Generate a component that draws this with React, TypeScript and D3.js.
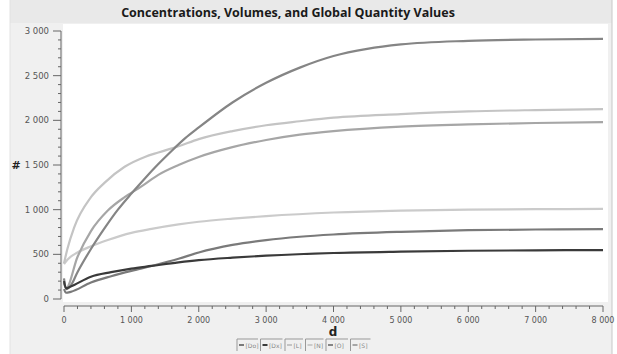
import React, { useEffect, useRef } from "react";
import * as d3 from "d3";

// time points (d) and series values (#)
const tDo = [0, 30, 100, 400, 700, 1000, 1300, 1700, 2000, 2500, 3000, 3500, 4000, 5000, 6000, 7000, 8000];
const vDo = [110, 70, 80, 185, 255, 315, 370, 450, 520, 605, 660, 697, 722, 752, 770, 778, 783];

const tDx = [0, 30, 100, 400, 700, 1000, 1300, 1700, 2000, 2500, 3000, 4000, 5000, 6000, 7000, 8000];
const vDx = [200, 120, 140, 250, 300, 340, 370, 410, 435, 463, 485, 515, 530, 540, 545, 548];

const tL = [0, 50, 150, 400, 600, 900, 1200, 1400, 1700, 2000, 2500, 3000, 3500, 4000, 5000, 6000, 7000, 8000];
const vL = [400, 560, 800, 1140, 1300, 1480, 1590, 1640, 1710, 1790, 1880, 1945, 1990, 2030, 2070, 2100, 2115, 2125];

const tN = [0, 50, 200, 400, 650, 1000, 1300, 1700, 2000, 2500, 3000, 4000, 5000, 6000, 7000, 8000];
const vN = [390, 440, 520, 590, 660, 740, 785, 835, 865, 900, 928, 968, 990, 1000, 1005, 1008];

const tO = [0, 30, 100, 200, 400, 600, 800, 1000, 1200, 1400, 1600, 1800, 2000, 2500, 3000, 3500, 4000, 4500, 5000, 6000, 7000, 8000];
const vO = [230, 110, 150, 300, 560, 790, 1000, 1180, 1350, 1510, 1660, 1800, 1920, 2200, 2420, 2590, 2720, 2800, 2850, 2890, 2905, 2912];

const tS = [0, 30, 200, 400, 650, 900, 1150, 1400, 1700, 2000, 2500, 3000, 3500, 4000, 5000, 6000, 7000, 8000];
const vS = [180, 120, 470, 760, 990, 1140, 1260, 1390, 1500, 1590, 1700, 1780, 1840, 1880, 1930, 1955, 1970, 1980];

const seriesNames = ["[Do]", "[Dx]", "[L]", "[N]", "[O]", "[S]"];
const seriesT = [tDo, tDx, tL, tN, tO, tS];
const seriesV = [vDo, vDx, vL, vN, vO, vS];
const seriesColors = ["#7a7a7a", "#3a3a3a", "#c4c4c4", "#cbcbcb", "#858585", "#a6a6a6"];

const xTicks = [0, 1000, 2000, 3000, 4000, 5000, 6000, 7000, 8000];
const yTicks = [0, 500, 1000, 1500, 2000, 2500, 3000];

const W = 617;
const H = 354;

export default function App() {
  const ref = useRef<SVGSVGElement | null>(null);

  useEffect(() => {
    const svg = d3.select(ref.current);
    svg.selectAll("*").remove();

    const x = d3.scaleLinear().domain([0, 8000]).range([64, 603]);
    const y = d3.scaleLinear().domain([0, 3000]).range([299, 31]);
    const loc = d3.formatLocale({ decimal: ".", thousands: " ", grouping: [3], currency: ["", ""] });
    const fmt = loc.format(",d");

    svg.append("rect").attr("width", W).attr("height", H).attr("fill", "#ffffff");
    svg.append("rect").attr("x", 10).attr("width", 602).attr("height", H).attr("fill", "#f0f0f0");
    svg.append("rect").attr("x", 10).attr("y", 0).attr("width", 602).attr("height", 23).attr("fill", "#e9e9e9");
    svg.append("line").attr("x1", 612).attr("x2", 612).attr("y1", 0).attr("y2", H).attr("stroke", "#c8c8c8");
    svg.append("line").attr("x1", 10).attr("x2", 10).attr("y1", 0).attr("y2", H).attr("stroke", "#e2e2e2");

    // plot area
    svg.append("rect").attr("x", 63).attr("y", 24).attr("width", 545).attr("height", 278).attr("fill", "#ffffff");

    svg.append("text")
      .attr("x", 288).attr("y", 17)
      .attr("text-anchor", "middle")
      .style("font-family", "'Open Sans', sans-serif")
      .style("font-weight", "700")
      .style("font-size", "12.5px")
      .attr("fill", "#1a1a1a")
      .text("Concentrations, Volumes, and Global Quantity Values");

    // y axis
    const yAxis = svg.append("g");
    yAxis.append("line").attr("x1", 61).attr("x2", 61).attr("y1", y(3000)).attr("y2", y(0)).attr("stroke", "#666");
    d3.range(0, 3001, 100).forEach((v) => {
      const major = v % 500 === 0;
      yAxis.append("line")
        .attr("x1", major ? 53 : 58).attr("x2", 61)
        .attr("y1", y(v)).attr("y2", y(v))
        .attr("stroke", "#666");
    });
    yAxis.selectAll("text.tick").data(yTicks).enter().append("text")
      .attr("x", 49).attr("y", (d) => y(d) + 3)
      .attr("text-anchor", "end")
      .style("font-family", "'DejaVu Sans', sans-serif")
      .style("font-size", "8.5px")
      .attr("fill", "#555")
      .text((d) => fmt(d));
    svg.append("text")
      .attr("x", 16).attr("y", y(1500) + 4)
      .attr("text-anchor", "middle")
      .style("font-family", "'DejaVu Sans', sans-serif")
      .style("font-weight", "700")
      .style("font-size", "11px")
      .attr("fill", "#222")
      .text("#");

    // x axis
    const xAxis = svg.append("g");
    const ay = 306;
    xAxis.append("line").attr("x1", x(0)).attr("x2", x(8000)).attr("y1", ay).attr("y2", ay).attr("stroke", "#666");
    d3.range(0, 8001, 200).forEach((v) => {
      const major = v % 1000 === 0;
      xAxis.append("line")
        .attr("x1", x(v)).attr("x2", x(v))
        .attr("y1", ay).attr("y2", ay + (major ? 6 : 3))
        .attr("stroke", "#666");
    });
    xAxis.selectAll("text.tick").data(xTicks).enter().append("text")
      .attr("x", (d) => x(d)).attr("y", ay + 17)
      .attr("text-anchor", "middle")
      .style("font-family", "'DejaVu Sans', sans-serif")
      .style("font-size", "8px")
      .attr("fill", "#555")
      .text((d) => fmt(d));
    svg.append("text")
      .attr("x", 333).attr("y", 336)
      .attr("text-anchor", "middle")
      .style("font-family", "'DejaVu Sans', sans-serif")
      .style("font-weight", "700")
      .style("font-size", "12px")
      .attr("fill", "#222")
      .text("d");

    // lines
    const line = d3.line<[number, number]>()
      .x((d) => x(d[0]))
      .y((d) => y(d[1]))
      .curve(d3.curveMonotoneX);
    const order = [3, 2, 5, 4, 0, 1];
    order.forEach((i) => {
      const pts = seriesT[i].map((t, k) => [t, seriesV[i][k]] as [number, number]);
      svg.append("path")
        .attr("d", line(pts))
        .attr("fill", "none")
        .attr("stroke", seriesColors[i])
        .attr("stroke-width", 2.2)
        .attr("stroke-linejoin", "round");
    });

    // legend
    const boxW = [21, 22, 18, 18, 22, 20];
    let lx = 237;
    seriesNames.forEach((name, i) => {
      const g = svg.append("g").attr("transform", `translate(${lx},339)`);
      g.append("path").attr("d", `M0,12 V0 H${boxW[i]}`).attr("fill", "none").attr("stroke", "#999");
      g.append("line").attr("x1", 2).attr("x2", 7).attr("y1", 6).attr("y2", 6)
        .attr("stroke", seriesColors[i]).attr("stroke-width", 2);
      g.append("text").attr("x", 8.5).attr("y", 8.5)
        .style("font-family", "'DejaVu Sans', sans-serif")
        .style("font-size", "6px")
        .attr("fill", "#888")
        .text(name);
      lx += boxW[i] + 2.5;
    });
  }, []);

  return <svg ref={ref} width={W} height={H} style={{ display: "block", position: "absolute", left: 0, top: 0 }} />;
}
